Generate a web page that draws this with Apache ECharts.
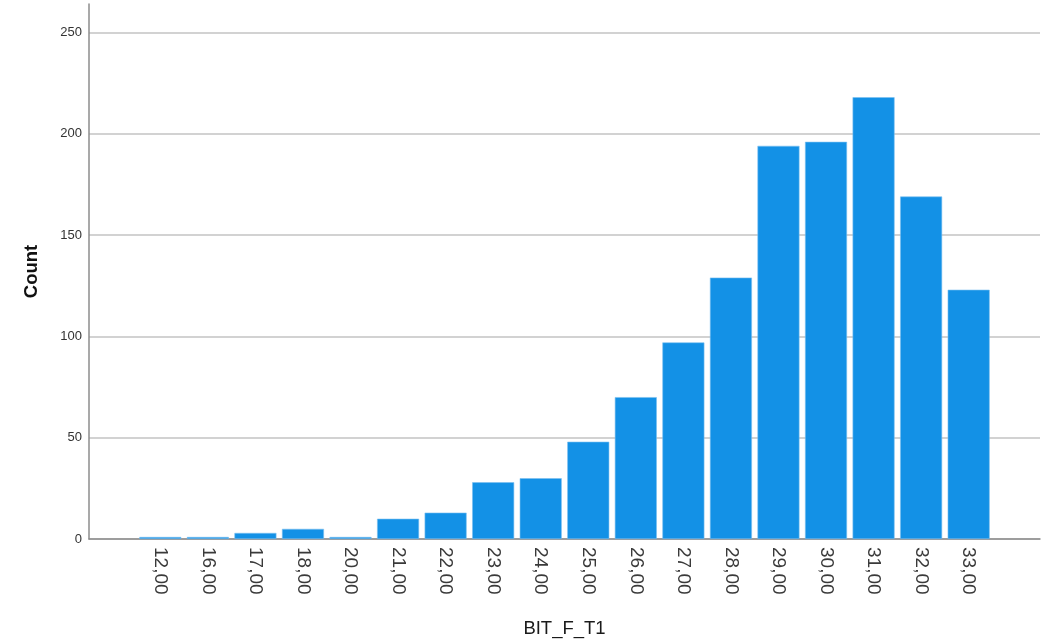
<!DOCTYPE html>
<html><head><meta charset="utf-8">
<script src="https://cdn.jsdelivr.net/npm/echarts@6/dist/echarts.min.js"></script>
<style>html,body{margin:0;padding:0;background:#fff}#c{width:1049px;height:643px}</style>
</head><body><div id="c"></div>
<script>
const categories = ["12,00","16,00","17,00","18,00","20,00","21,00","22,00","23,00","24,00","25,00","26,00","27,00","28,00","29,00","30,00","31,00","32,00","33,00"];
const counts = [1,1,3,5,1,10,13,28,30,48,70,97,129,194,196,218,169,123];
const yTicks = [0,50,100,150,200,250];

// one empty slot on each side, as in the reference's padded axis
const axisCats = [""].concat(categories, [""]);
const axisVals = [null].concat(counts, [null]);

const chart = echarts.init(document.getElementById('c'));
chart.setOption({
  animation: false,
  grid: {left: 89, right: 9, top: 4, bottom: 103},
  xAxis: {
    type: 'category',
    data: axisCats,
    boundaryGap: true,
    name: 'BIT_F_T1',
    nameLocation: 'middle',
    nameGap: 80,
    nameTextStyle: {fontFamily: 'Arial, Liberation Sans', fontSize: 18.5, color: '#1a1a1a'},
    axisLine: {lineStyle: {color: '#8c8c8c', width: 1.5}},
    axisTick: {show: false},
    axisLabel: {rotate: -90, interval: 0, margin: 8, fontFamily: 'Arial, Liberation Sans', fontSize: 19, color: '#3a3a3a'}
  },
  yAxis: {
    type: 'value',
    min: 0, max: 264, interval: 50,
    name: 'Count',
    nameLocation: 'middle',
    nameGap: 48,
    nameRotate: 90,
    nameTextStyle: {fontFamily: 'Arial, Liberation Sans', fontSize: 18.5, fontWeight: 'bold', color: '#111'},
    axisLine: {show: true, lineStyle: {color: '#8c8c8c', width: 1.5}},
    axisTick: {show: false},
    axisLabel: {showMaxLabel: false, margin: 7, fontFamily: 'Arial, Liberation Sans', fontSize: 13, color: '#333',
      formatter: v => yTicks.indexOf(v) >= 0 ? String(v) : ''},
    splitLine: {show: true, showMaxLine: false, lineStyle: {color: '#d2d2d2', width: 2}}
  },
  series: [{
    type: 'bar',
    data: axisVals,
    barWidth: 42,
    itemStyle: {color: '#1391e6', borderColor: '#7cc0f0', borderWidth: 0.6}
  }]
});
</script></body></html>
